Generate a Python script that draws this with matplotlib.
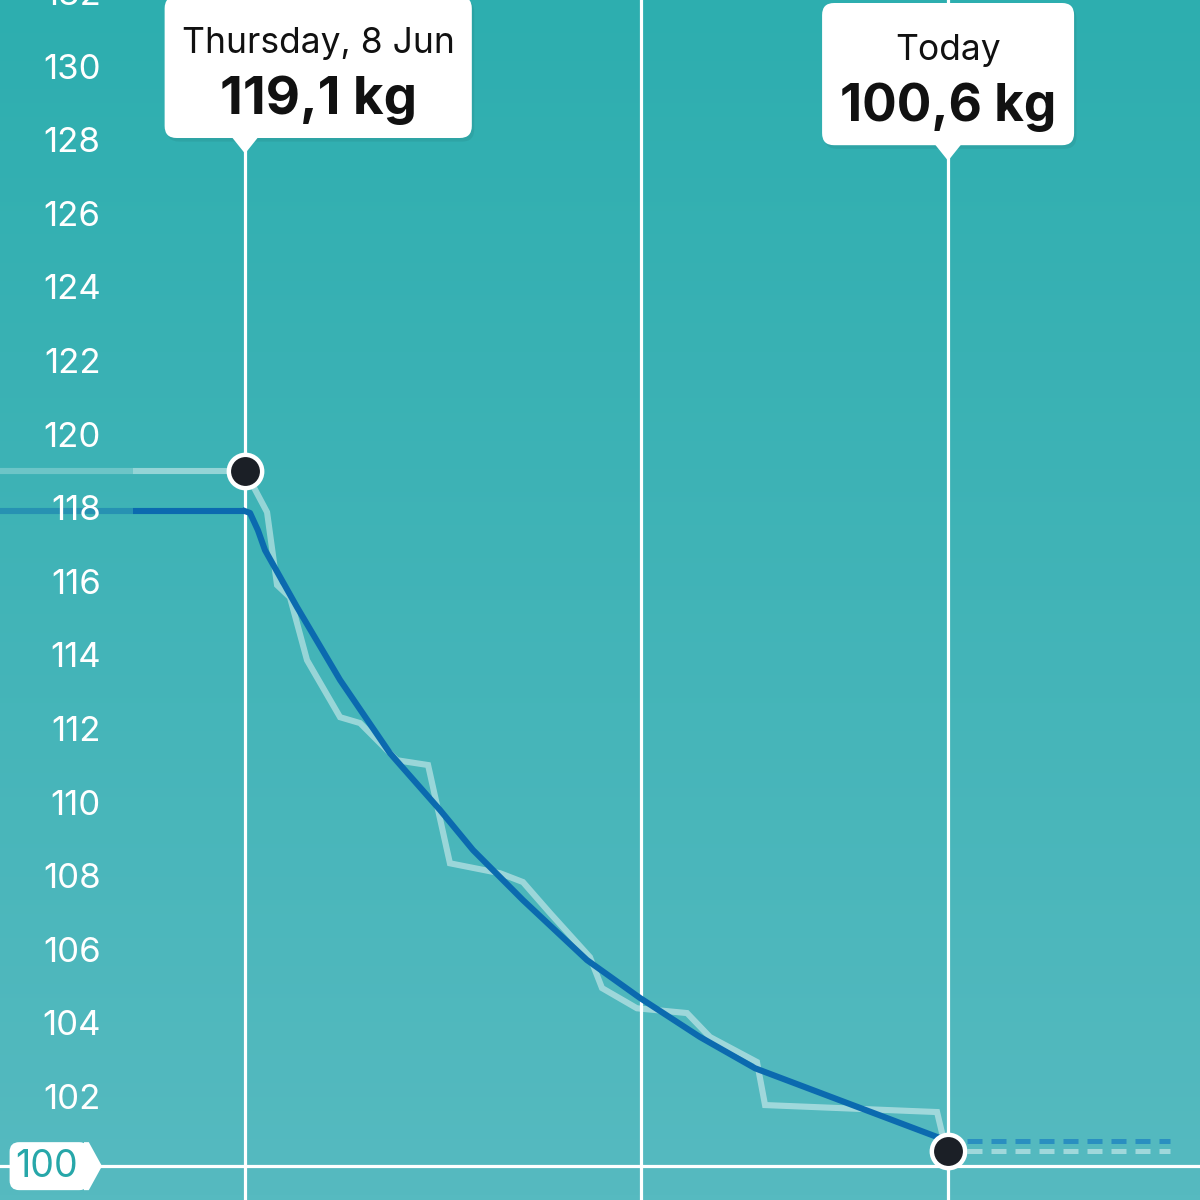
import numpy as np
import matplotlib
matplotlib.use("Agg")
import matplotlib.pyplot as plt
from matplotlib.patches import FancyBboxPatch, Polygon
from matplotlib.colors import LinearSegmentedColormap

plt.rcParams['font.family'] = ['Inter', 'DejaVu Sans']

# days counted from Thursday 8 Jun
history_days = [-14.3, -6.5, 0.0]
history_raw = [119.1, 119.1, 119.1]
history_trend = [118.0, 118.0, 118.0]

raw_days = [0.0, 1.28, 1.86, 2.61, 3.60, 5.52, 6.68, 8.83, 10.63, 11.90, 14.81, 16.14,
            17.71, 20.03, 20.73, 22.76, 25.67, 27.00, 29.73, 30.20, 40.19, 40.48, 40.83]
raw_kg = [119.1, 117.97, 115.99, 115.66, 113.95, 112.40, 112.24, 111.23, 111.10, 108.43, 108.16, 107.92,
          107.08, 105.88, 105.04, 104.49, 104.36, 103.71, 103.03, 101.86, 101.67, 101.10, 100.6]

trend_days = [0.0, 0.29, 0.75, 1.16, 3.02, 5.52, 8.42, 11.32, 13.24, 16.14, 19.86, 22.94, 26.42, 29.62, 40.83]
trend_kg = [118.0, 117.95, 117.48, 116.94, 115.39, 113.41, 111.42, 109.88, 108.79, 107.43, 105.80,
            104.77, 103.71, 102.86, 100.88]

forecast_days = [41.93, 53.7]
month_line_day = 23.0
goal_kg = 100.2
goal_label = "100"
ytick_values = list(range(102, 134, 2))

callouts = [
    ("Thursday, 8 Jun", "119,1 kg", raw_days[0], raw_kg[0]),
    ("Today", "100,6 kg", raw_days[-1], raw_kg[-1]),
]

XMIN, XMAX = -14.23, 55.46
YMIN, YMAX = 99.28, 131.89

DARK = "#0b6aaf"
LIGHT = (1, 1, 1, 0.45)
LW = 4.4

fig = plt.figure(figsize=(12, 12), dpi=100)
ax = fig.add_axes([0, 0, 1, 1])
ax.set_xlim(XMIN, XMAX)
ax.set_ylim(YMIN, YMAX)
ax.axis("off")

# background gradient
cmap = LinearSegmentedColormap.from_list("bg", ["#56bac0", "#2daeaf"])
grad = np.linspace(0, 1, 256).reshape(-1, 1)
ax.imshow(grad, extent=[XMIN, XMAX, YMIN, YMAX], origin="lower", aspect="auto", cmap=cmap, zorder=0)

# guide lines
for d in [raw_days[0], month_line_day, raw_days[-1]]:
    ax.axvline(d, color="white", lw=2.3, zorder=1)
ax.axhline(goal_kg, color="white", lw=2.3, zorder=1)

# history (faded part first)
ax.plot(history_days[:2], history_raw[:2], color=(1, 1, 1, 0.25), lw=LW, solid_capstyle="butt", zorder=2)
ax.plot(history_days[1:], history_raw[1:], color=LIGHT, lw=LW, solid_capstyle="butt", zorder=2)
ax.plot(history_days[:2], history_trend[:2], color=DARK, alpha=0.45, lw=LW, solid_capstyle="butt", zorder=3)
ax.plot(history_days[1:], history_trend[1:], color=DARK, lw=LW, solid_capstyle="butt", zorder=3)

# measurements and trend
ax.plot(raw_days, raw_kg, color=LIGHT, lw=LW, solid_joinstyle="miter", zorder=2)
ax.plot(trend_days, trend_kg, color=DARK, lw=LW, zorder=3)

# forecast dashes
ax.plot(forecast_days, [raw_kg[-1]] * 2, color=LIGHT, lw=3.6, dashes=(3, 1.8), zorder=2)
ax.plot(forecast_days, [trend_kg[-1]] * 2, color="#2a8fc0", lw=3.6, dashes=(3, 1.8), zorder=2)

# selected points
ax.plot([raw_days[0], raw_days[-1]], [raw_kg[0], raw_kg[-1]], "o", ms=24, color="#1b1f26",
        mec="white", mew=3.2, zorder=5)

# y labels
for v in ytick_values:
    ax.text(0.084, v, str(v), transform=ax.get_yaxis_transform(), ha="right", va="center",
            fontsize=25, color="white", zorder=4)

# goal tag
ty = ax.transAxes.inverted().transform(ax.transData.transform((0, goal_kg)))[1]
h = 0.02
ax.add_patch(FancyBboxPatch((0.008, ty - h), 0.066, 2 * h, boxstyle="round,pad=0,rounding_size=0.008",
                            transform=ax.transAxes, fc="white", ec="none", zorder=4))
ax.add_patch(Polygon([(0.07, ty - h), (0.074, ty - h), (0.085, ty), (0.074, ty + h), (0.07, ty + h)],
                     closed=True, transform=ax.transAxes, fc="white", ec="none", zorder=4))
ax.text(0.039, ty - 0.001, goal_label, transform=ax.transAxes, ha="center", va="center",
        fontsize=27, color="#27a7a9", zorder=5)


def frac_x(d):
    return (d - XMIN) / (XMAX - XMIN)


# callout boxes
box_specs = [(-0.067, 0.189, 0.885, 1.003), (-0.105, 0.105, 0.879, 0.9975)]
value_sizes = [38, 37]
for (title, value, d, kg), (l, r, b, t), vs in zip(callouts, box_specs, value_sizes):
    cx = frac_x(d)
    ax.add_patch(FancyBboxPatch((cx + l + 0.002, b - 0.003), r - l, t - b,
                                boxstyle="round,pad=0,rounding_size=0.01", transform=ax.transAxes,
                                fc=(0, 0, 0, 0.06), ec="none", zorder=6))
    ax.add_patch(FancyBboxPatch((cx + l, b), r - l, t - b, boxstyle="round,pad=0,rounding_size=0.01",
                                transform=ax.transAxes, fc="white", ec="none", zorder=7))
    ax.add_patch(Polygon([(cx - 0.012, b + 0.002), (cx + 0.012, b + 0.002), (cx, b - 0.013)],
                         closed=True, transform=ax.transAxes, fc="white", ec="none", zorder=7))
    mid = cx + (l + r) / 2
    ax.text(mid, b + (t - b) * 0.665, title, transform=ax.transAxes, ha="center", va="center",
            fontsize=25.5, color="#111111", zorder=8)
    ax.text(mid, b + (t - b) * 0.27, value, transform=ax.transAxes, ha="center", va="center",
            fontsize=vs, fontweight="bold", color="#111111", zorder=8)

fig.savefig("out.png", dpi=100)
